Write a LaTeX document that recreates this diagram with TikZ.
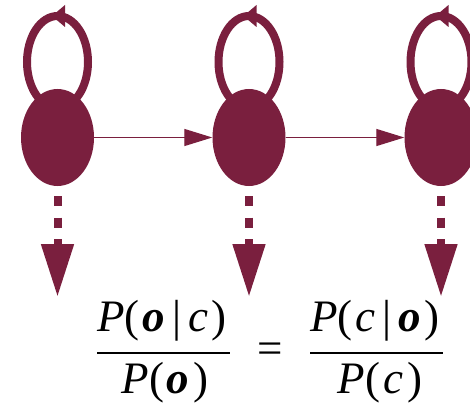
\documentclass[tikz,border=0pt]{standalone}
\usepackage{fontspec}
\setmainfont{Liberation Serif}
\usetikzlibrary{arrows.meta,shapes.geometric,calc}
\definecolor{hmmred}{RGB}{122,31,62}
\begin{document}
\begin{tikzpicture}[x=1pt,y=-1pt,
  state/.style={shape=ellipse, minimum width=73pt, minimum height=97pt, fill=hmmred, inner sep=0pt},
  loopline/.style={draw=hmmred, line width=8pt},
  trans/.style={draw=hmmred, line width=1.3pt, -{Triangle[length=28pt,width=17pt]}},
  emit/.style={draw=hmmred, line width=8pt, dash pattern=on 10pt off 11.5pt, -{Triangle[length=53pt,width=31pt]}},
  formula/.style={font=\fontsize{45}{50}\selectfont, inner sep=0pt, anchor=base},
  fracbar/.style={draw=black, line width=2pt}
]
\useasboundingbox (0,0) rectangle (470,406);
\clip (0,0) rectangle (470,406);
\foreach \i/\x in {1/57.5,2/249,3/441}{
  \coordinate (c\i) at (\x,137.5);
  \draw[loopline] ($(c\i)+(0,-75.5)$) ellipse [x radius=30.5, y radius=46];
  \fill[hmmred] ($(c\i)+(-5.5,-121.5)$) -- ++(13,-11) -- ++(0,22) -- cycle;
  \node[state] (n\i) at (c\i) {};
  \coordinate (o\i) at (\x,297);
  \draw[emit] ($(n\i.south)+(0,10)$) -- (o\i);
}
\draw[trans] (n1) -- (n2);
\draw[trans] (n2) -- (n3);
\node[formula] (num1) at (162,331) {\textit{P}(\kern3pt\textbf{\textit{o}}\kern7pt|\kern7pt\textit{c}\kern4pt)};
\node[formula] (den1) at (165,393) {\textit{P}(\kern3pt\textbf{\textit{o}}\kern4pt)};
\node[formula] (eq) at (270,363) {=};
\node[formula] (num2) at (375,331) {\textit{P}(\kern3pt\textit{c}\kern7pt|\kern7pt\textbf{\textit{o}}\kern4pt)};
\node[formula] (den2) at (380,393) {\textit{P}(\kern3pt\textit{c}\kern4pt)};
\draw[fracbar] (97,352.5) -- (230,352.5);
\draw[fracbar] (310,352.5) -- (443,352.5);
\end{tikzpicture}
\end{document}
